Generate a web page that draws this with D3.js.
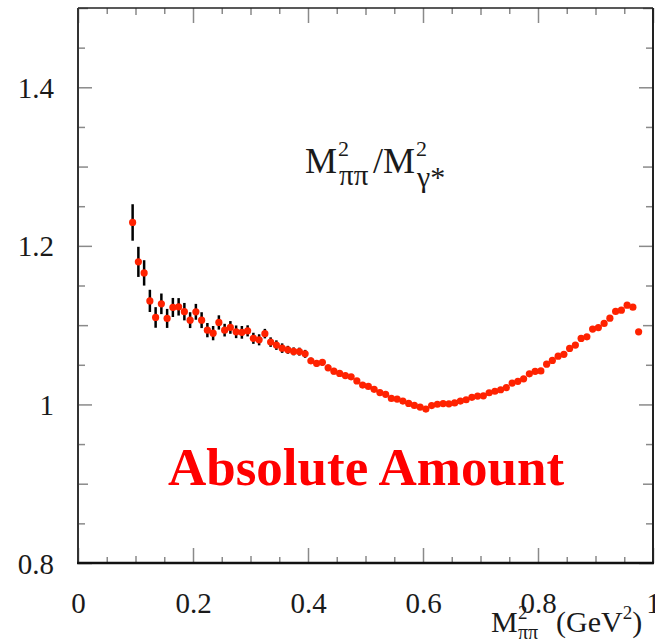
<!DOCTYPE html>
<html>
<head>
<meta charset="utf-8">
<script src="https://cdn.jsdelivr.net/npm/d3@7"></script>
<style>
  body { margin: 0; background: #fff; }
  svg { display: block; }
  text { font-family: "Liberation Serif", "DejaVu Serif", serif; }
</style>
</head>
<body>
<svg id="chart" width="655" height="644"></svg>
<script>
// bin centres of M^2_pipi (GeV^2), one every 0.01 starting at 0.095
var massSq = [
    0.095, 0.105, 0.115, 0.125, 0.135, 0.145, 0.155, 0.165, 0.175, 0.185,
    0.195, 0.205, 0.215, 0.225, 0.235, 0.245, 0.255, 0.265, 0.275, 0.285,
    0.295, 0.305, 0.315, 0.325, 0.335, 0.345, 0.355, 0.365, 0.375, 0.385,
    0.395, 0.405, 0.415, 0.425, 0.435, 0.445, 0.455, 0.465, 0.475, 0.485,
    0.495, 0.505, 0.515, 0.525, 0.535, 0.545, 0.555, 0.565, 0.575, 0.585,
    0.595, 0.605, 0.615, 0.625, 0.635, 0.645, 0.655, 0.665, 0.675, 0.685,
    0.695, 0.705, 0.715, 0.725, 0.735, 0.745, 0.755, 0.765, 0.775, 0.785,
    0.795, 0.805, 0.815, 0.825, 0.835, 0.845, 0.855, 0.865, 0.875, 0.885,
    0.895, 0.905, 0.915, 0.925, 0.935, 0.945, 0.955, 0.965, 0.975
];

// ratio M^2_pipi / M^2_gamma*
var ratio = [
    1.2295, 1.1798, 1.1659, 1.1306, 1.1097, 1.1269, 1.1085, 1.1223, 1.1231, 1.1170,
    1.1063, 1.1168, 1.1063, 1.0937, 1.0899, 1.1034, 1.0937, 1.0971, 1.0916, 1.0909,
    1.0928, 1.0834, 1.0815, 1.0893, 1.0786, 1.0748, 1.0710, 1.0689, 1.0669, 1.0666,
    1.0638, 1.0550, 1.0517, 1.0531, 1.0462, 1.0420, 1.0391, 1.0364, 1.0348, 1.0297,
    1.0244, 1.0227, 1.0190, 1.0149, 1.0128, 1.0076, 1.0067, 1.0042, 1.0013, 0.9988,
    0.9966, 0.9941, 0.9985, 1.0002, 1.0011, 1.0007, 1.0019, 1.0042, 1.0059, 1.0089,
    1.0105, 1.0108, 1.0147, 1.0166, 1.0185, 1.0212, 1.0269, 1.0292, 1.0323, 1.0386,
    1.0418, 1.0423, 1.0508, 1.0555, 1.0609, 1.0632, 1.0706, 1.0748, 1.0832, 1.0853,
    1.0950, 1.0969, 1.1022, 1.1088, 1.1173, 1.1189, 1.1252, 1.1227, 1.0916
];

// statistical errors (half length of the bars)
var ratioErr = [
    0.023, 0.019, 0.016, 0.014, 0.013, 0.013, 0.012, 0.012, 0.011, 0.011,
    0.010, 0.010, 0.010, 0.009, 0.009, 0.009, 0.008, 0.008, 0.008, 0.008,
    0.007, 0.007, 0.007, 0.006, 0.006, 0.006, 0.006, 0.005, 0.005, 0.005,
    0.005, 0.004, 0.004, 0.004, 0.004, 0.004, 0.004, 0.003, 0.003, 0.003,
    0.003, 0.003, 0.003, 0.003, 0.003, 0.003, 0.003, 0.003, 0.003, 0.003,
    0.003, 0.003, 0.003, 0.003, 0.003, 0.003, 0.003, 0.003, 0.003, 0.003,
    0.003, 0.003, 0.003, 0.003, 0.003, 0.003, 0.003, 0.003, 0.003, 0.003,
    0.003, 0.003, 0.003, 0.003, 0.003, 0.003, 0.003, 0.003, 0.003, 0.003,
    0.003, 0.003, 0.003, 0.003, 0.003, 0.003, 0.003, 0.003, 0.003
];

var xLabels = [0, 0.2, 0.4, 0.6, 0.8, 1];
var yLabels = [0.8, 1, 1.2, 1.4];

var svg = d3.select("#chart");

var frame = { left: 78, right: 653, top: 8, bottom: 563 };

var x = d3.scaleLinear().domain([0, 1]).range([frame.left, frame.right]);
var y = d3.scaleLinear().domain([0.8, 1.5]).range([frame.bottom, frame.top]);

function tickLevel(v, big, mid) {
    var r = Math.round(v * 100);
    if (r % big === 0) return 0;
    if (r % mid === 0) return 1;
    return 2;
}

var xTicks = d3.range(0, 101, 5).map(function (d) { return d / 100; });
var yTicks = d3.range(80, 151, 5).map(function (d) { return d / 100; });

var xLen = [15, 7, 6];
var yLen = [14, 10, 7];

// ticks on all four sides, three lengths each
[0, 1, 2].forEach(function (lvl) {
    var xv = xTicks.filter(function (d) { return tickLevel(d, 20, 10) === lvl; });
    var yv = yTicks.filter(function (d) { return tickLevel(d, 20, 10) === lvl; });

    svg.append("g")
        .attr("class", "tick-b")
        .attr("transform", "translate(0," + frame.bottom + ")")
        .call(d3.axisBottom(x).tickValues(xv).tickSize(-xLen[lvl]).tickFormat(""));
    svg.append("g")
        .attr("class", "tick-t")
        .attr("transform", "translate(0," + frame.top + ")")
        .call(d3.axisTop(x).tickValues(xv).tickSize(-xLen[lvl]).tickFormat(""));
    svg.append("g")
        .attr("class", "tick-l")
        .attr("transform", "translate(" + frame.left + ",0)")
        .call(d3.axisLeft(y).tickValues(yv).tickSize(-yLen[lvl]).tickFormat(""));
    svg.append("g")
        .attr("class", "tick-r")
        .attr("transform", "translate(" + frame.right + ",0)")
        .call(d3.axisRight(y).tickValues(yv).tickSize(-yLen[lvl]).tickFormat(""));
});

svg.selectAll(".tick-b, .tick-t, .tick-l, .tick-r").select(".domain").remove();
svg.selectAll(".tick-b line, .tick-t line, .tick-l line, .tick-r line")
    .attr("stroke", "#8a8a8a")
    .attr("stroke-width", 1.5);

// frame
svg.append("line")
    .attr("x1", frame.left).attr("x2", frame.right)
    .attr("y1", frame.top).attr("y2", frame.top)
    .attr("stroke", "#222").attr("stroke-width", 1.5);
svg.append("line")
    .attr("x1", frame.right).attr("x2", frame.right)
    .attr("y1", frame.top).attr("y2", frame.bottom)
    .attr("stroke", "#222").attr("stroke-width", 2);
svg.append("line")
    .attr("x1", frame.left).attr("x2", frame.left)
    .attr("y1", frame.top).attr("y2", frame.bottom)
    .attr("stroke", "#333").attr("stroke-width", 2);
svg.append("line")
    .attr("x1", frame.left - 1).attr("x2", frame.right + 1)
    .attr("y1", frame.bottom).attr("y2", frame.bottom)
    .attr("stroke", "#111").attr("stroke-width", 2.5);

// tick labels
var xAxisLabels = svg.append("g")
    .attr("transform", "translate(0," + frame.bottom + ")")
    .call(d3.axisBottom(x).tickValues(xLabels).tickSize(0).tickPadding(0)
        .tickFormat(function (d) { return String(+d.toFixed(1)); }));
xAxisLabels.select(".domain").remove();
xAxisLabels.selectAll("text")
    .attr("y", 50).attr("dy", 0)
    .attr("font-size", 29)
    .attr("font-family", "Liberation Serif")
    .attr("fill", "#1a1a1a");

var yAxisLabels = svg.append("g")
    .attr("transform", "translate(" + frame.left + ",0)")
    .call(d3.axisLeft(y).tickValues(yLabels).tickSize(0).tickPadding(0)
        .tickFormat(function (d) { return String(+d.toFixed(1)); }));
yAxisLabels.select(".domain").remove();
yAxisLabels.selectAll("text")
    .attr("x", -24).attr("dy", 10)
    .attr("font-size", 29)
    .attr("font-family", "Liberation Serif")
    .attr("fill", "#1a1a1a");

// data
var points = massSq.map(function (m, i) {
    return { m: m, r: ratio[i], e: ratioErr[i] };
});

svg.append("g").selectAll("line")
    .data(points)
    .join("line")
    .attr("x1", function (d) { return x(d.m); })
    .attr("x2", function (d) { return x(d.m); })
    .attr("y1", function (d) { return y(d.r - d.e); })
    .attr("y2", function (d) { return y(d.r + d.e); })
    .attr("stroke", "#000")
    .attr("stroke-width", 2.5);

svg.append("g").selectAll("circle")
    .data(points)
    .join("circle")
    .attr("cx", function (d) { return x(d.m); })
    .attr("cy", function (d) { return y(d.r); })
    .attr("r", 3.6)
    .attr("fill", "#ff2200");

// in-plot caption, each piece placed on its own
var cap = svg.append("text")
    .attr("font-size", 36)
    .attr("fill", "#1a1a1a");
cap.append("tspan").attr("x", 305).attr("y", 173).text("M");
cap.append("tspan").attr("x", 338).attr("y", 156).attr("font-size", 22).text("2");
cap.append("tspan").attr("x", 339).attr("y", 185).attr("font-size", 29).text("ππ");
cap.append("tspan").attr("x", 373).attr("y", 173).text("/M");
cap.append("tspan").attr("x", 416).attr("y", 156).attr("font-size", 22).text("2");
cap.append("tspan").attr("x", 417).attr("y", 187).attr("font-size", 30).text("γ*");

// axis title
var xt = svg.append("text")
    .attr("font-size", 30)
    .attr("fill", "#1a1a1a");
xt.append("tspan").attr("x", 491).attr("y", 632).text("M");
xt.append("tspan").attr("x", 518).attr("y", 619).attr("font-size", 19).text("2");
xt.append("tspan").attr("x", 518).attr("y", 639).attr("font-size", 20).text("ππ");
xt.append("tspan").attr("x", 556).attr("y", 632).text("(GeV");
xt.append("tspan").attr("font-size", 19).attr("dy", -13).text("2");
xt.append("tspan").attr("dy", 13).text(")");

svg.append("text")
    .attr("x", 366).attr("y", 485)
    .attr("text-anchor", "middle")
    .attr("font-size", 53)
    .attr("font-weight", "bold")
    .attr("fill", "#ff0000")
    .text("Absolute Amount");
</script>
</body>
</html>
